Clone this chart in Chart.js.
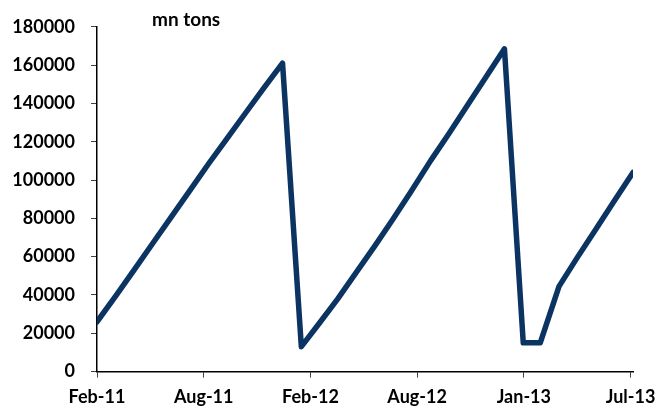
<!DOCTYPE html>
<html>
<head>
<meta charset="utf-8">
<script src="https://cdn.jsdelivr.net/npm/chart.js@4.4.1/dist/chart.umd.min.js"></script>
<style>
  html, body { margin: 0; padding: 0; background: #ffffff; }
  #wrap { width: 666px; height: 412px; }
</style>
</head>
<body>
<div id="wrap"><canvas id="c" width="666" height="412"></canvas></div>
<script>
// ---- data (month-end observations) ----
const dates = [
  '2011-02-28','2011-03-31','2011-04-30','2011-05-31','2011-06-30','2011-07-31',
  '2011-08-31','2011-09-30','2011-10-31','2011-11-30','2011-12-31',
  '2012-01-31','2012-02-29','2012-03-31','2012-04-30','2012-05-31','2012-06-30',
  '2012-07-31','2012-08-31','2012-09-30','2012-10-31','2012-11-30','2012-12-31',
  '2013-01-31','2013-02-28','2013-03-31','2013-04-30','2013-05-31','2013-06-30','2013-07-31'
];
const values = [
  26000, 39500, 53000, 67000, 80500, 94500,
  108500, 121500, 135000, 148000, 161000,
  13000, 25000, 38000, 51500, 65500, 79500,
  94500, 110000, 124000, 139000, 153500, 168500,
  15000, 15000, 44500, 59500, 74500, 89000, 104000
];
const tickLabels = ['Feb-11','Aug-11','Feb-12','Aug-12','Jan-13','Jul-13'];
const tickStepDays = 176;
const yTickStep = 20000;
const yMax = 180000;
const unitLabel = 'mn tons';

// ---- build ----
const DAY = 86400000;
const t0 = Date.parse(dates[0]);
const dayOf = d => (Date.parse(d) - t0) / DAY;
const points = dates.map((d, i) => ({ x: dayOf(d), y: values[i] }));
const lastDay = dayOf(dates[dates.length - 1]);

const FONT = 'Lato, "Open Sans", sans-serif';

const unitPlugin = {
  id: 'unitLabel',
  afterDraw(chart) {
    const { ctx, chartArea } = chart;
    ctx.save();
    ctx.font = 'bold 19px ' + FONT;
    ctx.fillStyle = '#000000';
    ctx.textBaseline = 'alphabetic';
    ctx.textAlign = 'left';
    ctx.fillText(unitLabel, chartArea.left + 55, 26);
    ctx.restore();
  }
};

new Chart(document.getElementById('c'), {
  type: 'line',
  data: {
    datasets: [{
      data: points,
      borderColor: '#0b3463',
      borderWidth: 5.5,
      borderCapStyle: 'round',
      borderJoinStyle: 'round',
      pointRadius: 0,
      tension: 0,
      fill: false
    }]
  },
  options: {
    responsive: false,
    animation: false,
    layout: { padding: { top: 15, right: 33, bottom: 0, left: 0 } },
    plugins: { legend: { display: false }, tooltip: { enabled: false } },
    scales: {
      x: {
        type: 'linear',
        min: 0,
        max: lastDay,
        afterBuildTicks(scale) {
          scale.ticks = tickLabels.map((_, i) => ({ value: i * tickStepDays }));
        },
        afterFit(scale) { scale.height = 40.4; },
        ticks: {
          autoSkip: false,
          maxRotation: 0,
          padding: 9,
          color: '#000000',
          font: { family: FONT, size: 18, weight: 'bold' },
          callback: (v) => {
            const i = Math.round(v / tickStepDays);
            return tickLabels[i] !== undefined ? tickLabels[i] : '';
          }
        },
        grid: {
          display: true,
          drawOnChartArea: false,
          drawTicks: true,
          tickLength: 6,
          color: '#404040',
          lineWidth: 1
        },
        border: { display: true, color: '#000000', width: 1.5 }
      },
      y: {
        min: 0,
        max: yMax,
        afterFit(scale) { scale.width = 97; },
        ticks: {
          stepSize: yTickStep,
          padding: 16,
          color: '#000000',
          font: { family: FONT, size: 18, weight: 'bold' },
          callback: (v) => String(v)
        },
        grid: {
          display: true,
          drawOnChartArea: false,
          drawTicks: true,
          tickLength: 6,
          color: '#404040',
          lineWidth: 1
        },
        border: { display: true, color: '#000000', width: 1.5 }
      }
    }
  },
  plugins: [unitPlugin]
});
</script>
</body>
</html>
